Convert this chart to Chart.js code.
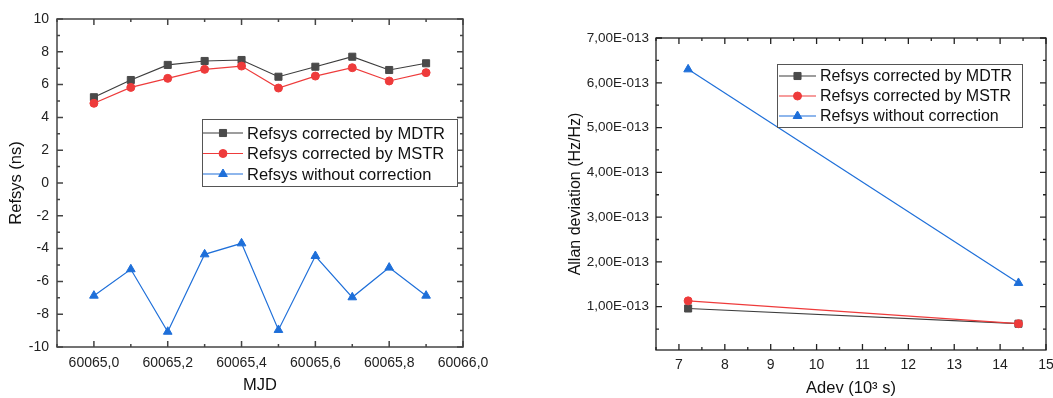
<!DOCTYPE html>
<html>
<head>
<meta charset="utf-8">
<script src="https://cdn.jsdelivr.net/npm/chart.js@4.4.0/dist/chart.umd.min.js"></script>
<style>
  html, body { margin: 0; padding: 0; background: #fff; width: 1053px; height: 398px; overflow: hidden; }
  #wrapLeft { position: absolute; left: 0; top: 0; width: 520px; height: 398px; }
  #wrapRight { position: absolute; left: 530px; top: 0; width: 523px; height: 398px; }
</style>
</head>
<body>
<div id="wrapLeft"><canvas id="leftChart" width="520" height="398"></canvas></div>
<div id="wrapRight"><canvas id="rightChart" width="523" height="398"></canvas></div>
<script>
// left panel: Refsys vs MJD
const mjd = [60065.0, 60065.1, 60065.2, 60065.3, 60065.4, 60065.5, 60065.6, 60065.7, 60065.8, 60065.9];
const refsysMdtr = [5.23, 6.28, 7.2, 7.44, 7.5, 6.48, 7.09, 7.7, 6.89, 7.3];
const refsysMstr = [4.86, 5.83, 6.38, 6.93, 7.13, 5.79, 6.52, 7.03, 6.22, 6.73];
const refsysRaw = [-6.87, -5.26, -9.07, -4.35, -3.68, -8.96, -4.45, -6.97, -5.16, -6.87];
const mjdTicks = [60065.0, 60065.2, 60065.4, 60065.6, 60065.8, 60066.0];
const refsysTicks = [-10, -8, -6, -4, -2, 0, 2, 4, 6, 8, 10];

// right panel: Allan deviation vs averaging time
const tau = [7.2, 14.4];
const adevMdtr = [0.96e-13, 0.62e-13];
const adevMstr = [1.13e-13, 0.62e-13];
const adevRaw = [6.3e-13, 1.53e-13];
const tauTicks = [7, 8, 9, 10, 11, 12, 13, 14, 15];
const adevTicks = [1e-13, 2e-13, 3e-13, 4e-13, 5e-13, 6e-13, 7e-13];

const seriesNames = ['Refsys corrected by MDTR', 'Refsys corrected by MSTR', 'Refsys without correction'];

const GRAY = '#3d3d3d', GRAY_PT = '#4a4a4a';
const RED = '#ee3b3b';
const BLUE = '#1e6fd9';

Chart.defaults.font.family = 'Arial, "Liberation Sans", sans-serif';
Chart.defaults.color = '#222';

function series(label, xs, ys, line, pt, style, radius, order) {
  return {
    label: label,
    data: xs.map((x, i) => ({ x: x, y: ys[i] })),
    borderColor: line,
    borderWidth: 1.2,
    backgroundColor: pt,
    pointBackgroundColor: pt,
    pointBorderColor: pt,
    pointBorderWidth: 1,
    pointStyle: style,
    pointRadius: radius,
    pointHoverRadius: radius,
    tension: 0,
    order: order
  };
}

// frame around plot area with inward ticks on all four sides
const frameTicks = {
  id: 'frameTicks',
  afterDatasetsDraw(chart, args, o) {
    const { ctx, chartArea: a } = chart;
    const x = chart.scales.x, y = chart.scales.y;
    ctx.save();
    ctx.strokeStyle = o.color;
    ctx.lineWidth = o.width;
    ctx.beginPath();
    function marks(scale, step, len) {
      for (let i = Math.ceil(scale.min / step - 1e-6); i * step <= scale.max + step * 1e-6; i++) {
        const p = scale.getPixelForValue(i * step);
        if (scale.axis === 'x') {
          ctx.moveTo(p, a.bottom); ctx.lineTo(p, a.bottom - len);
          ctx.moveTo(p, a.top); ctx.lineTo(p, a.top + len);
        } else {
          ctx.moveTo(a.left, p); ctx.lineTo(a.left + len, p);
          ctx.moveTo(a.right, p); ctx.lineTo(a.right - len, p);
        }
      }
    }
    marks(x, o.xMajor, o.majorLen);
    marks(x, o.xMinor, o.minorLen);
    marks(y, o.yMajor, o.majorLen);
    marks(y, o.yMinor, o.minorLen);
    ctx.stroke();
    ctx.strokeRect(a.left, a.top, a.right - a.left, a.bottom - a.top);
    ctx.restore();
  }
};

// boxed legend placed inside the plot
const boxLegend = {
  id: 'boxLegend',
  afterDatasetsDraw(chart, args, o) {
    const ctx = chart.ctx;
    ctx.save();
    ctx.fillStyle = '#fff';
    ctx.fillRect(o.x, o.y, o.w, o.h);
    ctx.strokeStyle = '#555';
    ctx.lineWidth = 1;
    ctx.strokeRect(o.x + 0.5, o.y + 0.5, o.w, o.h);
    chart.data.datasets.forEach((ds, row) => {
      const cy = o.y + o.firstRow + row * o.rowH;
      ctx.strokeStyle = ds.borderColor;
      ctx.lineWidth = ds.borderWidth;
      ctx.beginPath();
      ctx.moveTo(o.x + o.lineFrom, cy);
      ctx.lineTo(o.x + o.lineTo, cy);
      ctx.stroke();
      ctx.fillStyle = ds.pointBackgroundColor;
      ctx.strokeStyle = ds.pointBorderColor;
      ctx.lineWidth = 1;
      Chart.helpers.drawPoint(ctx, { pointStyle: ds.pointStyle, radius: ds.pointRadius, borderWidth: 1, rotation: 0 },
        o.x + (o.lineFrom + o.lineTo) / 2, cy);
      ctx.fillStyle = '#111';
      ctx.font = o.font;
      ctx.textBaseline = 'middle';
      ctx.fillText(ds.label, o.x + o.textX, cy + 1);
    });
    ctx.restore();
  }
};

const comma = (v, d) => v.toFixed(d).replace('.', ',');

new Chart(document.getElementById('leftChart'), {
  type: 'line',
  data: {
    datasets: [
      series(seriesNames[0], mjd, refsysMdtr, GRAY, GRAY_PT, 'rect', 5, 2),
      series(seriesNames[1], mjd, refsysMstr, RED, RED, 'circle', 4, 1),
      series(seriesNames[2], mjd, refsysRaw, BLUE, BLUE, 'triangle', 5, 0)
    ]
  },
  options: {
    responsive: false,
    animation: false,
    events: [],
    layout: { padding: { left: 0, right: 57, top: 19, bottom: 0 } },
    plugins: {
      legend: { display: false },
      tooltip: { enabled: false },
      frameTicks: { color: '#444', width: 1.5, xMajor: 0.2, xMinor: 0.1, yMajor: 2, yMinor: 1, majorLen: 6, minorLen: 3 },
      boxLegend: { x: 202, y: 119, w: 255, h: 67, firstRow: 14, rowH: 20.5, lineFrom: 1, lineTo: 41, textX: 45,
        font: '16.5px Arial, "Liberation Sans", sans-serif' }
    },
    scales: {
      x: {
        type: 'linear', min: 60064.9, max: 60066.0,
        grid: { display: false, drawTicks: false }, border: { display: false },
        afterBuildTicks: s => { s.ticks = mjdTicks.map(v => ({ value: v })); },
        afterFit: s => { s.height = 51; s.paddingLeft = 0; s.paddingRight = 0; },
        ticks: { padding: 8, font: { size: 14 }, maxRotation: 0, autoSkip: false, callback: v => comma(v, 1) },
        title: { display: true, text: 'MJD', font: { size: 16.5 }, color: '#111', padding: { top: 0, bottom: 3 } }
      },
      y: {
        type: 'linear', min: -10, max: 10,
        grid: { display: false, drawTicks: false }, border: { display: false },
        afterBuildTicks: s => { s.ticks = refsysTicks.map(v => ({ value: v })); },
        afterFit: s => { s.width = 57; s.paddingTop = 0; s.paddingBottom = 0; },
        ticks: { padding: 8, font: { size: 14 }, autoSkip: false },
        title: { display: true, text: 'Refsys (ns)', font: { size: 16.5 }, color: '#111', padding: { top: 7, bottom: 0 } }
      }
    }
  },
  plugins: [frameTicks, boxLegend]
});

new Chart(document.getElementById('rightChart'), {
  type: 'line',
  data: {
    datasets: [
      series(seriesNames[0], tau, adevMdtr, GRAY, GRAY_PT, 'rect', 5, 2),
      series(seriesNames[1], tau, adevMstr, RED, RED, 'circle', 4, 1),
      series(seriesNames[2], tau, adevRaw, BLUE, BLUE, 'triangle', 5, 0)
    ]
  },
  options: {
    responsive: false,
    animation: false,
    events: [],
    layout: { padding: { left: 0, right: 7, top: 38, bottom: 0 } },
    plugins: {
      legend: { display: false },
      tooltip: { enabled: false },
      frameTicks: { color: '#222', width: 1.3, xMajor: 1, xMinor: 0.5, yMajor: 1e-13, yMinor: 0.5e-13, majorLen: 6, minorLen: 3 },
      boxLegend: { x: 247, y: 64, w: 245, h: 63, firstRow: 12, rowH: 20, lineFrom: 2, lineTo: 39, textX: 43,
        font: '16px Arial, "Liberation Sans", sans-serif' }
    },
    scales: {
      x: {
        type: 'linear', min: 6.5, max: 15,
        grid: { display: false, drawTicks: false }, border: { display: false },
        afterBuildTicks: s => { s.ticks = tauTicks.map(v => ({ value: v })); },
        afterFit: s => { s.height = 48; s.paddingLeft = 0; s.paddingRight = 0; },
        ticks: { padding: 7, font: { size: 14 }, maxRotation: 0, autoSkip: false },
        title: { display: true, text: 'Adev (10³ s)', font: { size: 16.5 }, color: '#111', padding: { top: 0, bottom: 0 } }
      },
      y: {
        type: 'linear', min: 0.033e-13, max: 7e-13,
        grid: { display: false, drawTicks: false }, border: { display: false },
        afterBuildTicks: s => { s.ticks = adevTicks.map(v => ({ value: v })); },
        afterFit: s => { s.width = 126; s.paddingTop = 0; s.paddingBottom = 0; },
        ticks: { padding: 7, font: { size: 13.5 }, autoSkip: false, callback: v => comma(v / 1e-13, 2) + 'E-013' },
        title: { display: true, text: 'Allan deviation (Hz/Hz)', font: { size: 16 }, color: '#111', padding: { top: 36, bottom: 0 } }
      }
    }
  },
  plugins: [frameTicks, boxLegend]
});
</script>
</body>
</html>
